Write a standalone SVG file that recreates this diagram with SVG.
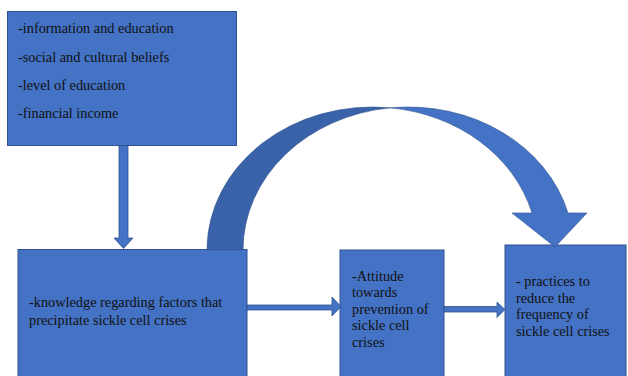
<svg xmlns="http://www.w3.org/2000/svg" width="628" height="376" viewBox="0 0 628 376">
  <style>
    .box { fill: #4472C4; stroke: #2F528F; stroke-width: 1; }
    .arrow { fill: #4472C4; stroke: #2F528F; stroke-width: 0.8; stroke-linejoin: miter; }
    .arc-back { fill: #3A62A9; stroke: #2F528F; stroke-width: 0.6; }
    .arc-front { fill: #4472C4; stroke: #2F528F; stroke-width: 0.6; }
    .label { font-family: 'Liberation Serif', Tinos, 'DejaVu Serif', serif; font-size: 14.3px; fill: #111; }
  </style>
  <rect width="628" height="376" fill="#ffffff"/>

  <g id="factors">
    <rect class="box" x="7.5" y="11.5" width="229" height="134"/>
    <g class="label">
      <text x="18" y="33">-information and education</text>
      <text x="18" y="61.5">-social  and cultural beliefs</text>
      <text x="18" y="89.5">-level of education</text>
      <text x="18" y="117.5">-financial income</text>
    </g>
  </g>

  <g id="knowledge">
    <rect class="box" x="18" y="249.5" width="229" height="140"/>
    <g class="label">
      <text x="29" y="306.5">-knowledge regarding factors that</text>
      <text x="29" y="324.5">precipitate sickle  cell  crises</text>
    </g>
  </g>

  <g id="attitude">
    <rect class="box" x="340" y="250" width="104" height="140"/>
    <g class="label">
      <text x="352" y="280.5">-Attitude</text>
      <text x="352" y="297">towards</text>
      <text x="352" y="313.5">prevention of</text>
      <text x="352" y="330">sickle cell</text>
      <text x="352" y="346.5">crises</text>
    </g>
  </g>

  <g id="practices">
    <rect class="box" x="505" y="245" width="121" height="145"/>
    <g class="label">
      <text x="516" y="286">-  practices to</text>
      <text x="516" y="302.5">reduce the</text>
      <text x="516" y="319">frequency of</text>
      <text x="516" y="335.5">sickle cell crises</text>
    </g>
  </g>

  <g id="connectors">
    <!-- factors down to knowledge -->
    <polygon class="arrow" points="119,145.5 128,145.5 128,238 133,238 123.5,248.5 114,238 119,238"/>
    <!-- knowledge to attitude -->
    <polygon class="arrow" points="247,305 332,305 332,297 341,306.5 332,316 332,310 247,310"/>
    <!-- attitude to practices -->
    <polygon class="arrow" points="444,306.5 497,306.5 497,302 505,309.5 497,317.5 497,312 444,312"/>
    <!-- curved arrow from knowledge over to practices: back crescent, then front band with head -->
    <path class="arc-back" d="M207,250 A165.3,143 0 0 1 390.3,107.85 A165.3,143 0 0 0 243,250 Z"/>
    <path class="arc-front" d="M390.3,107.85 A165.3,143 0 0 1 568,213 L587,213 L555,247 L512,213 L532,213 A165.3,143 0 0 0 390.3,107.85 Z"/>
  </g>
</svg>
